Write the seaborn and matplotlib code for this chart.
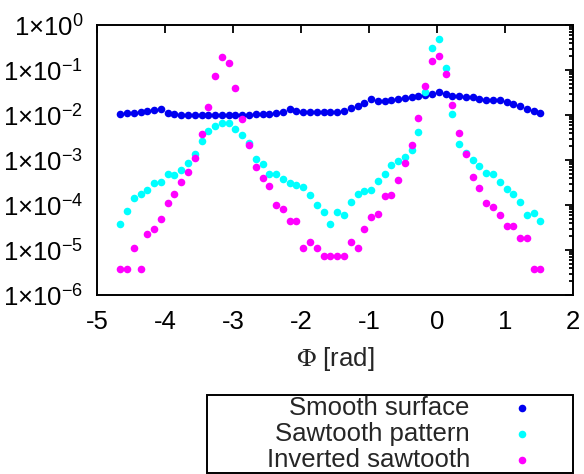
import numpy as np
import pandas as pd
import matplotlib
matplotlib.use("Agg")
import matplotlib.pyplot as plt
from matplotlib.patches import Rectangle
from matplotlib.ticker import FixedLocator, LogLocator, FuncFormatter, NullFormatter
import seaborn as sns

# angle of each bin [rad]
phi = [-4.662, -4.562, -4.463, -4.363, -4.263, -4.163, -4.064, -3.964, -3.864, -3.765,
       -3.665, -3.565, -3.465, -3.366, -3.266, -3.166, -3.066, -2.967, -2.867, -2.767,
       -2.667, -2.568, -2.468, -2.368, -2.268, -2.169, -2.069, -1.969, -1.870, -1.770,
       -1.670, -1.570, -1.471, -1.371, -1.271, -1.171, -1.072, -0.972, -0.872, -0.773,
       -0.673, -0.573, -0.473, -0.374, -0.274, -0.174, -0.074, 0.025, 0.125, 0.225,
       0.324, 0.424, 0.524, 0.624, 0.723, 0.823, 0.923, 1.023, 1.122, 1.222,
       1.322, 1.421, 1.521]

smooth = [0.0104, 0.0112, 0.0112, 0.0118, 0.0125, 0.0129, 0.0134, 0.0112, 0.0105, 0.0102,
          0.0102, 0.0102, 0.0102, 0.0102, 0.0102, 0.0102, 0.0102, 0.0102, 0.0100, 0.0102,
          0.0105, 0.0105, 0.0105, 0.0109, 0.0118, 0.0138, 0.0125, 0.0118, 0.0114, 0.0115,
          0.0115, 0.0118, 0.0119, 0.0123, 0.0141, 0.0158, 0.0182, 0.0223, 0.0210, 0.0210,
          0.0215, 0.0230, 0.0242, 0.0255, 0.0267, 0.0278, 0.0297, 0.0321, 0.0288, 0.0268,
          0.0264, 0.0255, 0.0247, 0.0227, 0.0219, 0.0212, 0.0219, 0.0198, 0.0173, 0.0156,
          0.0136, 0.0123, 0.0109]

sawtooth = [3.72e-5, 7.47e-5, 1.41e-4, 1.73e-4, 2.21e-4, 3.13e-4, 3.21e-4, 4.83e-4, 4.64e-4, 6.15e-4,
            8.45e-4, 1.38e-3, 2.58e-3, 4.41e-3, 5.78e-3, 6.74e-3, 6.54e-3, 4.81e-3, 3.63e-3, 2.42e-3,
            1.05e-3, 8.15e-4, 4.83e-4, 4.96e-4, 3.88e-4, 3.13e-4, 2.74e-4, 2.55e-4, 1.71e-4, 9.85e-5,
            7.10e-5, 3.74e-5, 7.10e-5, 6.00e-5, 1.18e-4, 1.78e-4, 2.08e-4, 2.15e-4, 3.45e-4, 4.89e-4,
            7.74e-4, 9.27e-4, 1.18e-3, 1.64e-3, 4.26e-3, 3.25e-2, 0.308, 0.481, 0.109, 1.03e-2,
            2.24e-3, 1.43e-3, 1.00e-3, 7.43e-4, 5.06e-4, 4.89e-4, 3.30e-4, 2.24e-4, 1.76e-4, 1.18e-4,
            6.00e-5, 6.81e-5, 4.48e-5]

inverted = [3.72e-6, 3.72e-6, 1.11e-5, 3.72e-6, 2.23e-5, 2.97e-5, 4.83e-5, 1.12e-4, 1.73e-4, 3.21e-4,
            5.36e-4, 1.10e-3, 3.72e-3, 1.53e-2, 7.36e-2, 0.196, 0.145, 3.92e-2, 8.07e-3, 2.15e-3,
            7.10e-4, 3.98e-4, 2.65e-4, 1.00e-4, 8.15e-5, 4.41e-5, 4.41e-5, 1.09e-5, 1.51e-5, 1.09e-5,
            7.36e-6, 7.36e-6, 7.36e-6, 7.36e-6, 1.51e-5, 1.11e-5, 2.96e-5, 5.50e-5, 6.31e-5, 1.60e-4,
            1.67e-4, 3.59e-4, 8.71e-4, 2.19e-3, 8.49e-3, 4.46e-2, 0.158, 0.208, 8.15e-2, 1.67e-2,
            4.08e-3, 1.34e-3, 4.25e-4, 2.42e-4, 1.09e-4, 8.89e-5, 6.00e-5, 3.33e-5, 3.33e-5, 1.85e-5,
            1.85e-5, 3.72e-6, 3.72e-6]

labels = ["Smooth surface", "Sawtooth pattern", "Inverted sawtooth"]
colors = ["#0000f0", "#00ffff", "#ff00ff"]
xticks = [-5, -4, -3, -2, -1, 0, 1, 2]
yticks = [1e-6, 1e-5, 1e-4, 1e-3, 1e-2, 1e-1, 1e0]

sns.set_style("white")
plt.rcParams["font.family"] = ["Liberation Sans", "DejaVu Sans"]
plt.rcParams["mathtext.fontset"] = "stix"

W, H = 584, 474
FS = 18.5
fig = plt.figure(figsize=(W / 100, H / 100), dpi=100)
ax = fig.add_axes([97.3 / W, 1 - 295 / H, (573 - 97.3) / W, (295 - 25) / H])

for series, lab, col in zip([smooth, sawtooth, inverted], labels, colors):
    sns.scatterplot(x=phi, y=series, color=col, s=30, linewidth=0, label=lab,
                    legend=False, ax=ax)

ax.set_yscale("log")
ax.set_xlim(-5, 2)
ax.set_ylim(1e-6, 1)
ax.set_xticks(xticks)
ax.set_xticklabels([str(t) for t in xticks])
ax.yaxis.set_major_locator(FixedLocator(yticks))
ax.yaxis.set_minor_locator(LogLocator(base=10, subs=np.arange(2, 10), numticks=20))
ax.yaxis.set_minor_formatter(NullFormatter())


def fmt(v, pos):
    e = int(round(np.log10(v)))
    return r"1×10$^{\mathregular{%d}}$" % e


ax.yaxis.set_major_formatter(FuncFormatter(fmt))

ax.tick_params(which="both", direction="in", top=True, right=True, colors="black",
               width=1.3, labelsize=FS)
ax.tick_params(which="major", length=6)
ax.tick_params(which="minor", length=3)
ax.tick_params(axis="x", pad=11)
ax.tick_params(axis="y", pad=10)
for s in ax.spines.values():
    s.set_linewidth(1.4)
    s.set_color("black")

ax.set_xlabel(r"$\Phi$ [rad]", fontsize=FS, labelpad=8)
ax.set_ylabel("")

# legend below the plot, boxed like the original
handles = ax.collections[:3]
fig.legend(handles, labels, loc="upper right", bbox_to_anchor=(534 / W, 1 - 396 / H),
           frameon=False, markerfirst=False, fontsize=FS, handlelength=0.9,
           handletextpad=1.6, labelspacing=0.07, borderpad=0, borderaxespad=0,
           scatterpoints=1)
fig.patches.append(Rectangle((207 / W, 1 - 473 / H), 366 / W, 78 / H,
                             transform=fig.transFigure, fill=False,
                             edgecolor="black", linewidth=1.4))

fig.savefig("out.png", dpi=100)
